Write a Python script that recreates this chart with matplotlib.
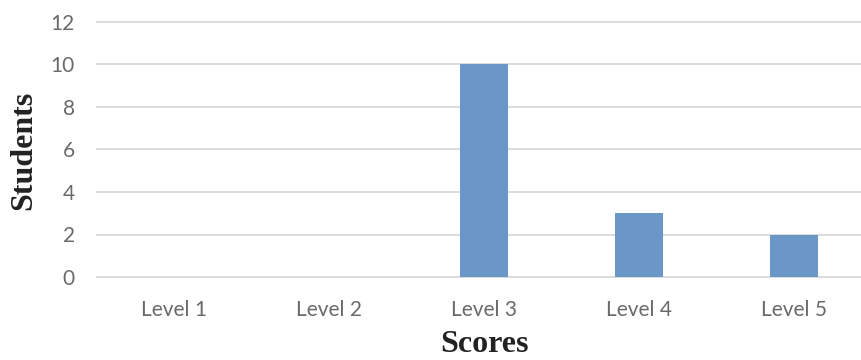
import matplotlib.pyplot as plt

### data
levels = ['Level 1', 'Level 2', 'Level 3', 'Level 4', 'Level 5']
students = [0, 0, 10, 3, 2]
y_ticks = [0, 2, 4, 6, 8, 10, 12]

### figure, plot area runs a little past the right edge like the original
W, H = 862, 360
fig = plt.figure(figsize=(W / 100, H / 100), dpi=100)
left_px, zero_px, unit_px, cat_px = 96.5, 277, 21.25, 155
y0, y1 = -0.1, 12.1
x1 = (W - left_px) / cat_px - 0.5
ax = fig.add_axes([left_px / W,
                   (H - zero_px - (0 - y0) * unit_px) / H,
                   1 - left_px / W,
                   (y1 - y0) * unit_px / H])

ax.bar(range(len(levels)), students, width=0.31, color='#6A96C8', zorder=3)
ax.set_xlim(-0.5, x1)
ax.set_ylim(y0, y1)
ax.set_xticks(range(len(levels)))
ax.set_xticklabels(levels)
ax.set_yticks(y_ticks)
ax.grid(axis='y', color='#D9D9D9', linewidth=1.3, zorder=0)
for s in ax.spines.values():
    s.set_visible(False)
ax.tick_params(axis='both', length=0, colors='#6A6A6A', labelsize=15)
ax.tick_params(axis='x', pad=15)
ax.tick_params(axis='y', pad=15.5)
for lab in ax.get_xticklabels() + ax.get_yticklabels():
    lab.set_family('Lato')

### axis titles
fig.text(24 / W, 1 - 150 / H, 'Students', rotation=90, ha='center', va='center',
         fontsize=23, fontweight='bold', family='Liberation Serif', color='#222222')
fig.text(485 / W, 1 - 345 / H, 'Scores', ha='center', va='center',
         fontsize=23, fontweight='bold', family='Liberation Serif', color='#222222')

fig.savefig('out.png', dpi=100)
